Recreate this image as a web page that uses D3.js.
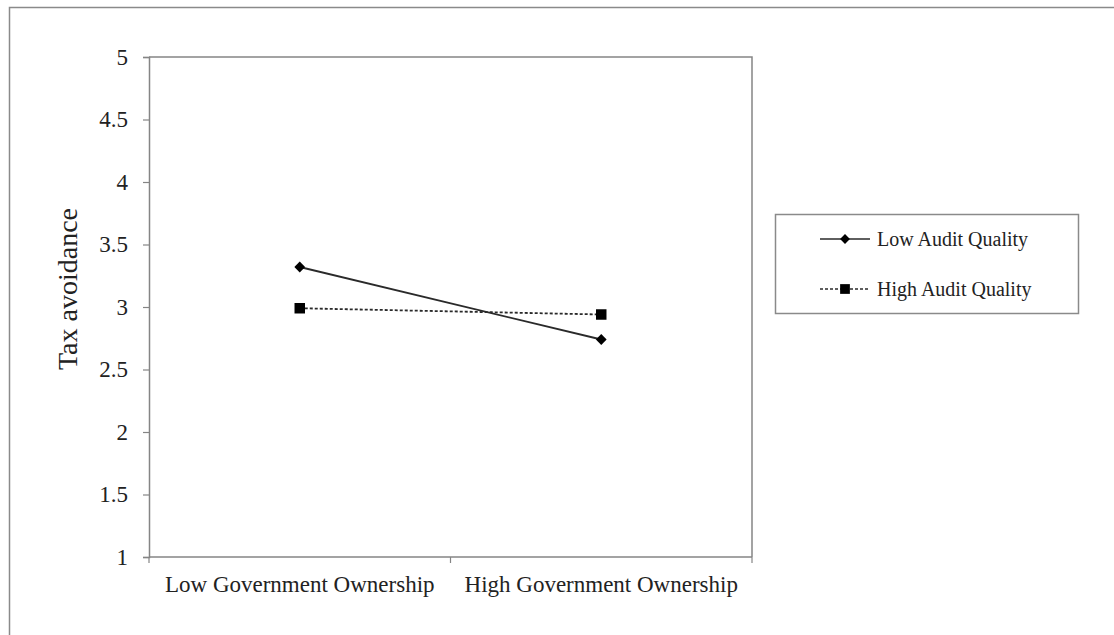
<!DOCTYPE html>
<html>
<head>
<meta charset="utf-8">
<script src="https://cdn.jsdelivr.net/npm/d3@7"></script>
<style>
  html, body { margin: 0; padding: 0; background: #fff; }
  svg { display: block; }
  text { font-family: "Liberation Serif", "Times New Roman", serif; fill: #222; }
</style>
</head>
<body>
<svg id="chart" width="1114" height="635"></svg>
<script>
// Interaction plot: tax avoidance by government ownership and audit quality
const categories = ["Low Government Ownership", "High Government Ownership"];
const lowAuditQuality = [3.32, 2.74];
const highAuditQuality = [2.99, 2.94];
const seriesNames = ["Low Audit Quality", "High Audit Quality"];
const yTicks = [1, 1.5, 2, 2.5, 3, 3.5, 4, 4.5, 5];
const yTickLabels = ["1", "1.5", "2", "2.5", "3", "3.5", "4", "4.5", "5"];
const yTitle = "Tax avoidance";

// square-proportioned diamond marker
const diamond = {
  draw(ctx, size) {
    const r = Math.sqrt(size / 2);
    ctx.moveTo(0, -r); ctx.lineTo(r, 0); ctx.lineTo(0, r); ctx.lineTo(-r, 0); ctx.closePath();
  }
};

const series = [
  { name: seriesNames[0], values: lowAuditQuality, dash: null, symbol: diamond, size: 58, legendSize: 48 },
  { name: seriesNames[1], values: highAuditQuality, dash: "3,2", symbol: d3.symbolSquare, size: 110, legendSize: 95 }
];

const svg = d3.select("#chart");
const axisColor = "#858585";
const serif = "'Liberation Serif', 'Times New Roman', serif";

// outer frame
svg.append("rect")
  .attr("x", 9.5).attr("y", 7.5)
  .attr("width", 1200).attr("height", 700)
  .attr("fill", "none").attr("stroke", "#8a8a8a").attr("stroke-width", 1.5);

const plot = { left: 149, right: 752, top: 57, bottom: 557 };

const x = d3.scaleBand().domain(categories).range([plot.left, plot.right]).padding(0);
const y = d3.scaleLinear().domain([1, 5]).range([plot.bottom, plot.top]);

// plot area border (top and right)
svg.append("path")
  .attr("d", `M${plot.left},${plot.top}H${plot.right}V${plot.bottom}`)
  .attr("fill", "none").attr("stroke", axisColor).attr("stroke-width", 1.5);

// y axis
const yAxis = svg.append("g")
  .attr("transform", `translate(${plot.left},0)`)
  .call(d3.axisLeft(y).tickValues(yTicks).tickFormat((d, i) => yTickLabels[i]).tickSize(6).tickPadding(15))
  .attr("font-family", serif)
  .attr("font-size", 23);
yAxis.select(".domain").attr("stroke", axisColor).attr("stroke-width", 1.5);
yAxis.selectAll(".tick line").attr("stroke", axisColor).attr("stroke-width", 1.2);
yAxis.selectAll(".tick text").attr("fill", "#222");

// x axis: ticks at category boundaries, labels centred in each band
const xAxis = svg.append("g")
  .attr("transform", `translate(0,${plot.bottom})`);
const xBoundaries = [plot.left].concat(categories.map(c => x(c) + x.bandwidth()));
xAxis.append("path")
  .attr("d", `M${plot.left},0H${plot.right}`)
  .attr("stroke", axisColor).attr("stroke-width", 1.5);
xAxis.selectAll("line.tick").data(xBoundaries).join("line")
  .attr("x1", d => d).attr("x2", d => d).attr("y1", 0).attr("y2", 6)
  .attr("stroke", axisColor).attr("stroke-width", 1.2);
xAxis.selectAll("text.cat").data(categories).join("text")
  .attr("class", "cat")
  .attr("x", d => x(d) + x.bandwidth() / 2)
  .attr("y", 35)
  .attr("text-anchor", "middle")
  .style("font-size", "23px")
  .text(d => d);

// y axis title
svg.append("text")
  .attr("transform", `translate(77,289) rotate(-90)`)
  .attr("text-anchor", "middle")
  .style("font-size", "28px")
  .text(yTitle);

const cx = c => x(c) + x.bandwidth() / 2;

// series lines and markers
series.forEach(s => {
  const pts = categories.map((c, i) => [cx(c), y(s.values[i])]);
  svg.append("path")
    .attr("d", d3.line()(pts))
    .attr("fill", "none").attr("stroke", "#2a2a2a").attr("stroke-width", 1.8)
    .attr("stroke-dasharray", s.dash);
  svg.selectAll(null).data(pts).join("path")
    .attr("transform", d => `translate(${d[0]},${d[1]})`)
    .attr("d", d3.symbol().type(s.symbol).size(s.size))
    .attr("fill", "#000");
});

// legend
const legend = svg.append("g");
legend.append("rect")
  .attr("x", 775.5).attr("y", 214.5).attr("width", 303).attr("height", 99)
  .attr("fill", "#fff").attr("stroke", "#8a8a8a").attr("stroke-width", 1.5);
series.forEach((s, i) => {
  const ly = 239 + i * 50;
  legend.append("line")
    .attr("x1", 820).attr("x2", 870).attr("y1", ly).attr("y2", ly)
    .attr("stroke", "#2a2a2a").attr("stroke-width", 1.6)
    .attr("stroke-dasharray", s.dash);
  legend.append("path")
    .attr("transform", `translate(845,${ly})`)
    .attr("d", d3.symbol().type(s.symbol).size(s.legendSize))
    .attr("fill", "#000");
  legend.append("text")
    .attr("x", 877).attr("y", ly + 7)
    .style("font-size", "20px")
    .text(s.name);
});
</script>
</body>
</html>
